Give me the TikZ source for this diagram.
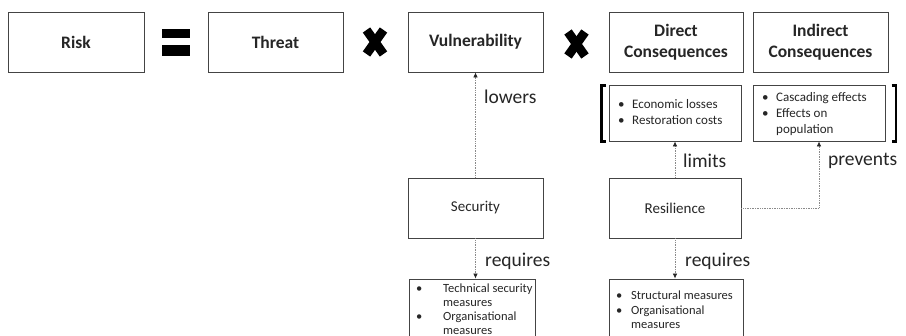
\documentclass[tikz,border=0pt]{standalone}
\usepackage{fontspec}
\setmainfont{Carlito}
\usetikzlibrary{arrows.meta}
\definecolor{boxline}{HTML}{444444}
\definecolor{dotline}{HTML}{8A8A8A}
\tikzset{
  box/.style={draw=boxline, line width=0.9pt, fill=white, inner sep=0pt},
  head/.style={font=\fontsize{17.5}{21}\selectfont\bfseries, align=center, text=black!85},
  plain/.style={font=\fontsize{15}{18}\selectfont, text=black!85},
  verb/.style={font=\fontsize{19.5}{22}\selectfont, text=black!85, anchor=west, inner sep=0pt},
  list/.style={font=\fontsize{13}{16}\selectfont, text=black!85, anchor=north west, inner sep=0pt, align=left},
  smalllist/.style={font=\fontsize{12.5}{14.2}\selectfont, text=black!85, anchor=north west, inner sep=0pt, align=left},
  link/.style={draw=dotline, densely dotted, line width=0.7pt, -{Latex[length=5pt,width=4.5pt,color=black!85]}},
  cross/.style={line width=9pt, black},
  brk/.style={line width=2.6pt, black}
}
\newcommand{\bl}[2]{\makebox[#1][l]{\textbullet}#2}
\begin{document}
\begin{tikzpicture}[x=1pt,y=-1pt]
\clip (0,0) rectangle (906,336);
\fill[white] (0,0) rectangle (906,336);

% top row: the risk equation
\node[box, minimum width=136pt, minimum height=60pt, head] (risk) at (76,42) {Risk};
\fill (162,29) rectangle (190,38);
\fill (162,45) rectangle (190,56);
\node[box, minimum width=135pt, minimum height=60pt, head] (threat) at (275.5,42) {Threat};
\draw[cross] (366.5,30) -- (383.5,54);
\draw[cross] (383.5,30) -- (366.5,54);
\node[box, minimum width=135pt, minimum height=60pt, head] (vuln) at (475.5,42) {Vulnerability};
\draw[cross] (568,32) -- (585,56);
\draw[cross] (585,32) -- (568,56);
\node[box, minimum width=134pt, minimum height=60pt, head] (direct) at (676,42) {Direct\\Consequences};
\node[box, minimum width=135pt, minimum height=60pt, head] (indirect) at (820.5,42) {Indirect\\Consequences};

% consequence details with brackets
\node[box, minimum width=132pt, minimum height=56pt] (econ) at (675,113) {};
\node[list] (econtext) at (618,99) {\bl{14pt}{Economic losses}\\\bl{14pt}{Restoration costs}};
\node[box, minimum width=132pt, minimum height=56pt] (casc) at (819,113) {};
\node[list] (casctext) at (762,92.5) {\bl{14pt}{Cascading effects}\\\bl{14pt}{Effects on}\\\hspace*{14pt}population};
\draw[brk] (606,85.5) -- (601.5,85.5) -- (601.5,141.5) -- (606,141.5);
\draw[brk] (891.5,85.5) -- (896,85.5) -- (896,141.5) -- (891.5,141.5);

% measures
\node[box, minimum width=135pt, minimum height=60pt, plain] (security) at (475.5,208) {Security};
\node[box, minimum width=132pt, minimum height=60pt, plain] (resil) at (675,208) {Resilience};
\node[box, minimum width=126pt, minimum height=70pt] (secmeas) at (472,314) {};
\node[smalllist] (secmeastext) at (416,283.5) {\bl{27pt}{Technical security}\\\hspace*{27pt}measures\\\bl{27pt}{Organisational}\\\hspace*{27pt}measures};
\node[box, minimum width=134pt, minimum height=70pt] (resmeas) at (676,314) {};
\node[smalllist] (resmeastext) at (616,291) {\bl{15pt}{Structural measures}\\\bl{15pt}{Organisational}\\\hspace*{15pt}measures};

% relations
\draw[link] (security.north) -- (vuln.south);
\node[verb] (lowers) at (484,97) {lowers};
\draw[link] (resil.north) -- (econ.south);
\node[verb] (limits) at (683,161) {limits};
\coordinate (pcorner) at (819,208);
\draw[link] (resil.east) -- (pcorner) -- (casc.south);
\node[verb] (prevents) at (828,161) {prevents};
\draw[link] (security.south) -- (secmeas.north -| security.south);
\node[verb] (req1) at (485,261) {requires};
\draw[link] (resil.south) -- (resmeas.north -| resil.south);
\node[verb] (req2) at (685,261) {requires};
\end{tikzpicture}
\end{document}
